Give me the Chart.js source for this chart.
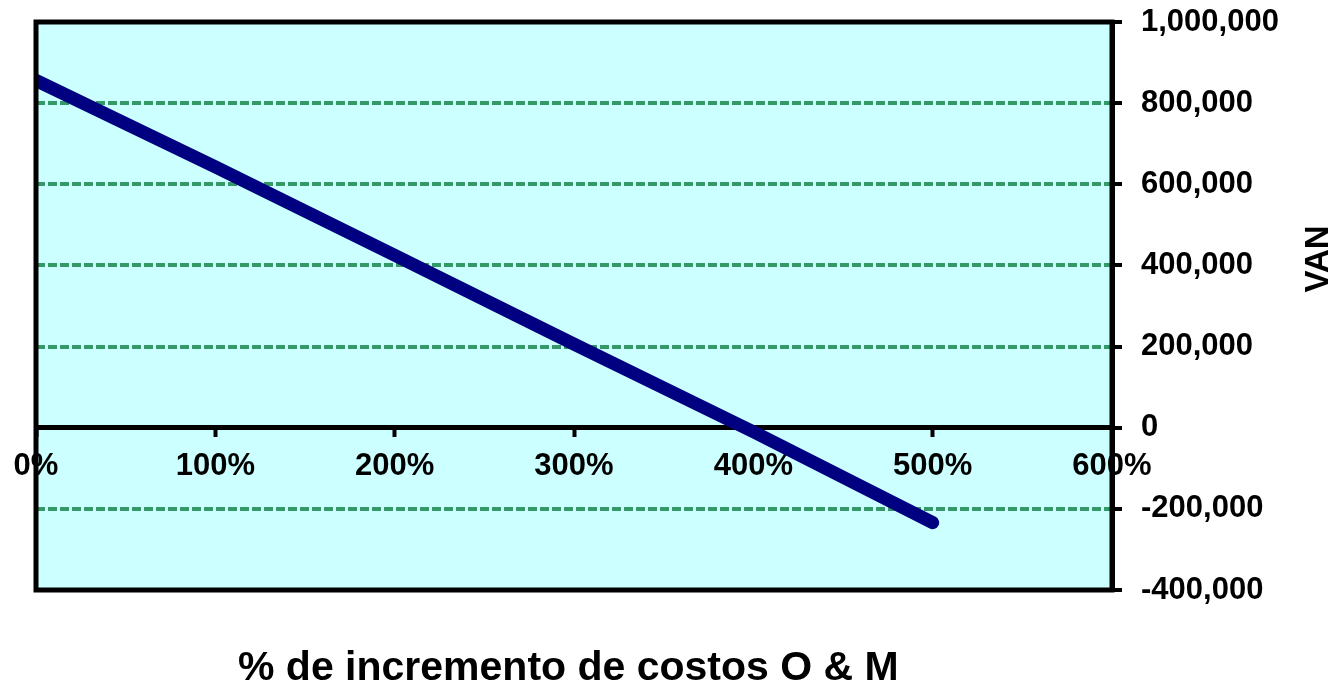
<!DOCTYPE html>
<html>
<head>
<meta charset="utf-8">
<script src="https://cdn.jsdelivr.net/npm/chart.js@4/dist/chart.umd.min.js"></script>
<style>
  html, body { margin: 0; padding: 0; background: #ffffff; }
  #wrap { width: 1336px; height: 685px; position: relative; }
  canvas { display: block; }
</style>
</head>
<body>
<div id="wrap"><canvas id="c" width="1336" height="685"></canvas></div>
<script>
// ---- data ----
const increasePct = [0, 100, 200, 300, 400, 500];
const vanValues = [856000, 643000, 425000, 206000, -10000, -234000];
const xTickMin = 0;
const xTickMax = 600;
const xTickStep = 100;
const yTickMin = -400000;
const yTickMax = 1000000;
const yTickStep = 200000;
const xAxisTitle = '% de incremento de costos O & M';
const yAxisTitle = 'VAN';

const FONT = 'Liberation Sans, Arial, sans-serif';

const points = increasePct.map((x, i) => ({ x: x, y: vanValues[i] }));

const plotDecor = {
  id: 'plotDecor',
  beforeDraw(chart) {
    const { ctx, chartArea: a } = chart;
    ctx.save();
    ctx.fillStyle = '#ffffff';
    ctx.fillRect(0, 0, chart.width, chart.height);
    ctx.fillStyle = '#CCFFFF';
    ctx.fillRect(a.left, a.top, a.right - a.left, a.bottom - a.top);
    ctx.restore();
  },
  afterDatasetsDraw(chart) {
    const { ctx, chartArea: a } = chart;
    ctx.save();
    ctx.strokeStyle = '#000000';
    ctx.lineWidth = 5;
    ctx.strokeRect(a.left, a.top, a.right - a.left, a.bottom - a.top);
    ctx.restore();
  },
  afterDraw(chart) {
    const { ctx } = chart;
    ctx.save();
    ctx.fillStyle = '#000000';
    // x axis title
    ctx.font = 'bold 41px ' + FONT;
    ctx.textAlign = 'left';
    ctx.textBaseline = 'alphabetic';
    ctx.fillText(xAxisTitle, 238, 680);
    // y axis title (rotated, reading bottom-to-top)
    ctx.translate(1319, 259);
    ctx.rotate(-Math.PI / 2);
    ctx.font = 'bold 33px ' + FONT;
    ctx.textAlign = 'center';
    ctx.textBaseline = 'middle';
    ctx.fillText(yAxisTitle, 0, 0);
    ctx.restore();
  }
};

new Chart(document.getElementById('c'), {
  type: 'scatter',
  data: {
    datasets: [{
      data: points,
      showLine: true,
      borderColor: '#000080',
      backgroundColor: '#000080',
      borderWidth: 13,
      borderCapStyle: 'round',
      borderJoinStyle: 'round',
      pointRadius: 0,
      pointHoverRadius: 0,
      tension: 0,
      clip: 0
    }]
  },
  options: {
    responsive: false,
    animation: false,
    events: [],
    layout: { padding: { left: 36, top: 22, right: 0, bottom: 95 } },
    plugins: {
      legend: { display: false },
      title: { display: false },
      tooltip: { enabled: false }
    },
    scales: {
      x: {
        type: 'linear',
        position: { y: 0 },
        min: xTickMin,
        max: xTickMax,
        afterFit(s) { s.paddingLeft = 0; s.paddingRight = 0; s.paddingTop = 0; s.paddingBottom = 0; },
        ticks: {
          stepSize: xTickStep,
          maxRotation: 0,
          autoSkip: false,
          padding: 13,
          color: '#000000',
          font: { family: FONT, size: 31, weight: 'bold' },
          callback: (v) => v + '%'
        },
        grid: {
          display: true,
          drawOnChartArea: false,
          drawTicks: true,
          tickLength: 7,
          tickColor: '#000000',
          tickWidth: 4
        },
        border: { display: true, color: '#000000', width: 5 }
      },
      y: {
        type: 'linear',
        position: 'right',
        min: yTickMin,
        max: yTickMax,
        afterFit(s) { s.width = 224; s.paddingTop = 0; s.paddingBottom = 0; },
        ticks: {
          stepSize: yTickStep,
          padding: 19,
          color: '#000000',
          font: { family: FONT, size: 31, weight: 'bold' },
          callback: (v) => v.toLocaleString('en-US')
        },
        grid: {
          color: (c) => (c.tick && c.tick.value === 0 ? '#000000' : '#339966'),
          lineWidth: 4,
          drawTicks: true,
          tickLength: 10,
          tickColor: '#000000',
          tickWidth: 4,
          tickBorderDash: []
        },
        border: { display: true, color: '#000000', width: 5, dash: [9, 3] }
      }
    }
  },
  plugins: [plotDecor]
});
</script>
</body>
</html>
